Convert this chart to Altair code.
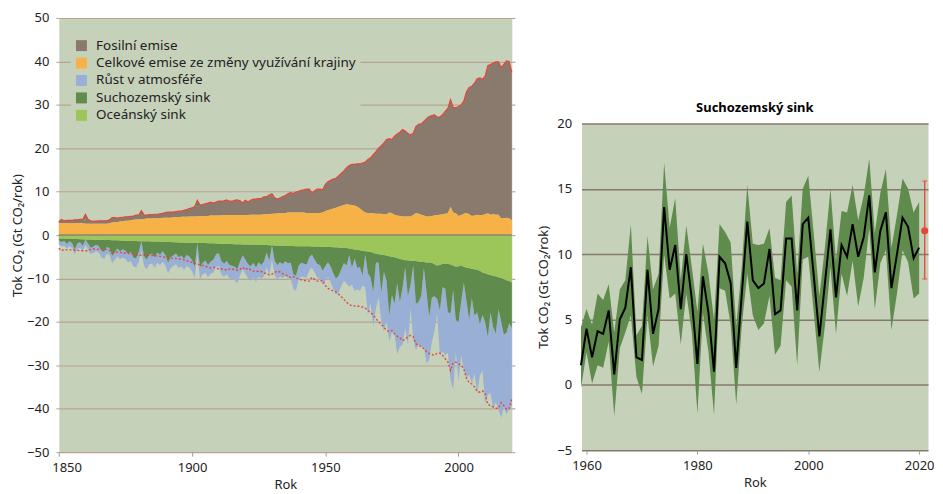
import altair as alt
import pandas as pd

# ---------------- data: global carbon budget (Gt CO2 / year) ----------------
years = list(range(1850, 2021))

luc = [
    2.7, 2.7, 2.7, 2.7, 2.7, 2.7, 2.7, 2.7, 2.8, 2.7,
    2.6, 2.6, 2.6, 2.6, 2.6, 2.6, 2.6, 2.6, 2.6, 2.7,
    2.9, 3.0, 3.0, 3.1, 3.2, 3.3, 3.3, 3.4, 3.5, 3.6,
    3.6, 3.7, 3.7, 3.8, 3.8, 3.8, 3.9, 3.9, 3.9, 4.0,
    4.0, 4.0, 4.0, 4.1, 4.1, 4.1, 4.2, 4.2, 4.2, 4.3,
    4.3, 4.3, 4.3, 4.4, 4.4, 4.4, 4.4, 4.5, 4.5, 4.5,
    4.5, 4.5, 4.6, 4.6, 4.6, 4.6, 4.6, 4.6, 4.6, 4.6,
    4.6, 4.6, 4.7, 4.7, 4.7, 4.7, 4.7, 4.8, 4.8, 4.8,
    4.9, 4.9, 5.0, 5.0, 5.1, 5.1, 5.2, 5.2, 5.2, 5.2,
    5.2, 5.2, 5.2, 5.1, 5.1, 5.1, 5.1, 5.1, 5.1, 5.2,
    5.5, 5.8, 5.9, 6.1, 6.3, 6.5, 6.7, 6.9, 7.1, 7.0,
    6.9, 6.8, 6.5, 6.1, 5.6, 5.2, 5.0, 5.0, 5.0, 4.9,
    4.9, 4.9, 4.8, 4.8, 5.2, 5.0, 4.7, 4.5, 4.4, 4.3,
    4.3, 4.3, 4.3, 4.6, 5.1, 4.9, 4.7, 4.5, 4.3, 4.3,
    4.4, 4.5, 4.6, 4.7, 4.8, 4.9, 5.0, 6.5, 5.2, 5.0,
    4.4, 4.6, 4.9, 5.1, 4.8, 4.4, 4.5, 4.7, 4.5, 4.6,
    4.8, 5.0, 4.7, 4.8, 4.7, 4.7, 3.8, 3.9, 4.0, 3.9,
    3.4,
]

fossil = [
    0.35, 0.9, 0.6, 0.7, 0.7, 0.7, 0.8, 0.8, 0.8, 0.9,
    1.0, 1.0, 0.7, 0.6, 0.6, 0.7, 0.7, 0.7, 0.7, 0.8,
    1.1, 1.0, 0.9, 0.9, 0.9, 0.9, 0.9, 0.9, 0.9, 1.0,
    1.0, 1.0, 0.9, 0.8, 0.9, 0.9, 0.9, 0.9, 1.0, 1.0,
    1.2, 1.3, 1.3, 1.2, 1.3, 1.4, 1.3, 1.5, 1.7, 1.8,
    2.0, 2.2, 2.3, 2.5, 2.6, 2.8, 3.0, 3.1, 2.9, 3.1,
    3.3, 3.3, 3.3, 3.5, 3.2, 3.2, 3.4, 3.5, 3.3, 2.8,
    3.4, 3.0, 3.3, 3.6, 3.6, 3.7, 3.7, 4.0, 4.0, 4.4,
    4.1, 3.7, 3.3, 3.5, 3.8, 4.0, 4.3, 4.6, 4.4, 4.7,
    4.9, 5.1, 5.2, 5.5, 5.5, 4.6, 5.1, 5.5, 5.5, 5.2,
    6.1, 6.5, 6.7, 6.8, 6.8, 7.1, 7.5, 7.9, 8.4, 9.0,
    9.4, 9.5, 9.9, 10.3, 11.0, 11.6, 12.4, 12.8, 13.5, 14.3,
    15.1, 15.7, 16.4, 17.2, 17.0, 17.0, 18.1, 18.8, 19.3, 20.0,
    19.7, 19.1, 18.8, 18.8, 19.9, 20.6, 20.9, 21.7, 22.5, 23.0,
    23.1, 23.2, 22.6, 22.5, 22.9, 23.6, 24.2, 24.7, 24.2, 24.3,
    25.2, 25.4, 26.0, 27.9, 29.2, 29.9, 30.5, 31.3, 31.7, 31.3,
    31.8, 34.0, 34.6, 34.8, 35.2, 35.2, 34.8, 35.4, 36.1, 36.1,
    34.1,
]

ocean_sink = [
    0.8, 0.8, 0.8, 0.85, 0.85, 0.9, 0.9, 0.9, 0.95, 0.95,
    1.0, 1.0, 1.0, 1.05, 1.05, 1.1, 1.1, 1.1, 1.15, 1.15,
    1.2, 1.2, 1.2, 1.25, 1.25, 1.3, 1.3, 1.3, 1.35, 1.35,
    1.4, 1.4, 1.4, 1.45, 1.45, 1.5, 1.5, 1.5, 1.55, 1.55,
    1.6, 1.6, 1.6, 1.65, 1.65, 1.7, 1.7, 1.7, 1.75, 1.75,
    1.75, 1.8, 1.8, 1.8, 1.85, 1.85, 1.9, 1.9, 1.9, 1.95,
    1.95, 2.0, 2.0, 2.0, 2.05, 2.05, 2.1, 2.1, 2.1, 2.15,
    2.15, 2.2, 2.2, 2.2, 2.25, 2.25, 2.3, 2.3, 2.3, 2.35,
    2.35, 2.4, 2.4, 2.45, 2.45, 2.45, 2.5, 2.5, 2.5, 2.55,
    2.55, 2.55, 2.6, 2.6, 2.6, 2.65, 2.65, 2.65, 2.7, 2.7,
    2.7, 2.75, 2.75, 2.8, 2.8, 2.85, 2.9, 2.95, 3.0, 3.1,
    3.2, 3.3, 3.4, 3.5, 3.6, 3.7, 3.8, 3.9, 4.1, 4.3,
    4.4, 4.5, 4.6, 4.7, 4.9, 5.0, 5.1, 5.3, 5.5, 5.6,
    5.8, 5.8, 5.9, 6.0, 6.0, 6.1, 6.2, 6.2, 6.3, 6.3,
    6.4, 6.7, 7.0, 6.9, 6.6, 6.6, 6.6, 6.8, 7.0, 7.3,
    7.2, 7.0, 7.3, 7.5, 7.6, 7.8, 7.9, 8.0, 8.2, 8.6,
    8.8, 9.0, 9.2, 9.4, 9.5, 9.7, 9.9, 10.1, 10.4, 10.6,
    10.9,
]

# positive = sink, negative = source
land_sink = [
    0.4, 0.8, 0.5, 1.2, 0.6, 0.9, 2.4, 1.0, 0.7, 1.5,
    -1.2, 1.0, 2.0, 1.6, 1.2, 1.4, 2.5, 2.8, 1.6, 1.8,
    3.6, 2.8, 1.9, 2.5, 2.0, 2.3, 3.0, 2.6, 3.8, 4.0,
    2.5, -0.9, 3.5, 4.2, 3.0, 2.8, 3.6, 2.5, 3.0, 2.2,
    3.0, 4.8, 3.5, 3.0, 2.6, 3.4, 3.0, 3.8, 2.8, 3.2,
    4.0, 5.5, -1.4, 5.6, 4.5, 4.0, 5.0, 4.2, 3.8, 2.5,
    2.2, 4.0, 4.6, 4.0, 4.8, 5.0, 5.2, 5.8, 4.0, 2.5,
    3.5, 4.5, 5.0, 4.2, 5.2, 4.0, 4.6, 3.8, 1.8, 3.5,
    -0.5, 3.5, 4.5, 3.8, 4.2, 3.6, 4.0, 3.8, 6.5, 6.8,
    4.5, 3.8, 4.0, 4.2, 2.5, 1.8, 3.0, 4.0, 4.2, 5.5,
    4.5, 3.5, 4.5, 6.0, 7.2, 6.5, 5.0, 3.5, 4.0, 1.5,
    4.3, 2.1, 4.1, 3.9, 5.7, 0.8, 5.0, 5.9, 9.0, 2.1,
    1.9, 8.8, 3.9, 5.8, 13.6, 8.8, 10.7, 5.8, 10.0, 6.5,
    1.6, 8.3, 5.5, 1.0, 9.8, 9.3, 7.8, 1.3, 6.9, 12.5,
    8.0, 7.4, 7.75, 10.4, 5.4, 5.7, 11.2, 11.2, 5.7, 12.3,
    12.8, 8.3, 3.7, 7.75, 11.9, 6.7, 10.7, 9.8, 12.3, 9.8,
    11.3, 14.5, 8.6, 11.8, 13.2, 7.4, 10.0, 12.8, 12.1, 9.7,
    10.5,
]

atm_growth = [
    1.0, 1.0, 1.1, 1.1, 1.1, 1.2, 1.2, 1.2, 1.3, 1.3,
    1.3, 1.4, 1.4, 1.4, 1.5, 1.5, 1.5, 1.6, 1.6, 1.6,
    1.7, 1.7, 1.8, 1.8, 1.9, 1.9, 2.0, 2.0, 2.1, 2.1,
    2.2, 2.2, 2.2, 2.3, 2.3, 2.3, 2.4, 2.4, 2.4, 2.4,
    2.4, 2.4, 2.5, 2.5, 2.5, 2.5, 2.5, 2.5, 2.6, 2.6,
    2.6, 2.6, 2.7, 2.7, 2.7, 2.8, 2.8, 2.8, 2.9, 2.9,
    2.9, 3.0, 3.0, 3.0, 3.1, 3.1, 3.1, 3.2, 3.2, 3.2,
    3.2, 3.3, 3.3, 3.3, 3.3, 3.3, 3.3, 3.3, 3.3, 3.3,
    3.3, 3.3, 3.3, 3.3, 3.3, 3.3, 3.4, 3.4, 3.4, 3.4,
    3.3, 3.2, 3.1, 3.0, 3.0, 3.0, 3.0, 3.1, 3.2, 3.3,
    3.3, 3.4, 3.5, 3.6, 3.7, 3.8, 3.9, 4.0, 4.2, 7.3,
    3.9, 7.5, 5.0, 5.5, 2.3, 7.6, 9.6, 5.9, 8.0, 10.5,
    8.0, 6.4, 13.7, 9.2, 6.1, 8.6, 7.1, 16.3, 10.2, 13.1,
    14.0, 11.2, 5.6, 16.8, 10.7, 9.7, 11.8, 18.2, 16.3, 10.0,
    10.2, 8.0, 3.4, 10.5, 14.8, 15.4, 9.3, 15.3, 22.9, 7.3,
    13.6, 12.4, 20.0, 17.6, 12.6, 19.7, 13.3, 18.7, 11.9, 12.8,
    18.7, 13.3, 18.6, 18.8, 15.8, 23.0, 22.2, 16.7, 18.7, 19.8,
    18.0,
]

# land sink panel (1959-2020): uncertainty band
rs_years = list(range(1959, 2021))
rs_upper = [
    4.4, 5.8, 4.6, 7.0, 6.5, 7.7, 4.0, 7.3, 8.0, 12.3,
    3.8, 4.5, 11.4, 7.3, 8.5, 17.0, 12.0, 14.3, 8.0, 12.2,
    9.0, 5.6, 10.8, 8.5, 5.0, 12.3, 11.7, 10.9, 4.5, 9.0,
    15.3, 10.8, 10.7, 10.8, 12.0, 8.2, 8.0, 14.0, 14.5, 8.5,
    15.0, 16.0, 11.5, 6.8, 10.5, 15.0, 9.5, 13.3, 13.2, 15.3,
    12.6, 14.5, 17.3, 11.6, 14.7, 16.5, 10.5, 13.0, 15.8, 15.0,
    13.2, 14.0,
]
rs_lower = [
    -0.3, 2.5, 0.1, 1.5, 1.3, 3.3, -2.4, 2.8, 4.0, 5.3,
    0.6, -0.7, 5.3, 1.4, 3.0, 10.0, 6.6, 7.0, 3.1, 7.0,
    4.0, -2.2, 5.5, 2.5, -2.3, 7.4, 7.2, 4.6, -1.5, 4.5,
    8.5, 5.3, 4.2, 4.7, 6.8, 2.3, 3.0, 8.0, 7.5, 1.5,
    9.6, 9.8, 5.5, 1.0, 4.5, 9.0, 3.9, 8.5, 6.8, 9.5,
    6.0, 8.2, 12.0, 5.8, 9.3, 10.3, 4.2, 7.0, 10.3, 9.4,
    6.6, 7.0,
]
err_year = [2021]
err_mid = [11.8]
err_lo = [8.1]
err_hi = [15.6]

series_names = [
    "Fosilní emise",
    "Celkové emise ze změny využívání krajiny",
    "Růst v atmosféře",
    "Suchozemský sink",
    "Oceánský sink",
]

# ---------------- styles ----------------
BG = "#c6d1ba"
C_FOSSIL = "#8a7a6d"
C_LUC = "#f6b247"
C_ATM = "#99afd5"
C_LAND = "#5f8b4c"
C_OCEAN = "#9cc55a"
RED = "#e5463c"
GRID_L = "#b6a594"
GRID_R = "#847a6b"
ZERO = "#8c8278"
TXT = "#222222"
FONT = "Noto Sans"
series_colors = [C_FOSSIL, C_LUC, C_ATM, C_LAND, C_OCEAN]

# ---------------- left panel ----------------
df = pd.DataFrame({"year": years, "luc": luc, "fossil": fossil,
                   "ocean": ocean_sink, "land": land_sink, "atm": atm_growth})
df["luc_top"] = df["luc"]
df["fos_top"] = df["luc"] + df["fossil"]
df["src_top"] = df["fos_top"] + (-df["land"]).clip(lower=0)
df["oce_bot"] = -df["ocean"]
df["land_bot"] = df["oce_bot"] - df["land"].clip(lower=0)
df["atm_bot"] = df["land_bot"] - df["atm"]
df["neg_total"] = -df["fos_top"]

long = pd.concat([
    pd.DataFrame({"year": df.year, "series": series_names[0], "lo": df.luc_top, "hi": df.fos_top}),
    pd.DataFrame({"year": df.year, "series": series_names[1], "lo": 0.0, "hi": df.luc_top}),
    pd.DataFrame({"year": df.year, "series": series_names[2], "lo": df.atm_bot, "hi": df.land_bot}),
    pd.DataFrame({"year": df.year, "series": series_names[3], "lo": df.land_bot, "hi": df.oce_bot}),
    pd.DataFrame({"year": df.year, "series": series_names[4], "lo": df.oce_bot, "hi": 0.0}),
], ignore_index=True)

Y_TITLE = "Tok CO₂ (Gt CO₂/rok)"


def xl(field="year"):
    return alt.X(f"{field}:Q",
                 scale=alt.Scale(domain=[1850, 2020], nice=False, zero=False),
                 axis=alt.Axis(values=[1850, 1900, 1950, 2000], format="d", title="Rok",
                               grid=False, domain=False, ticks=True, tickSize=4,
                               tickColor="#9a9a9a", labelPadding=5, titlePadding=5,
                               labelFlush=True, labelFlushOffset=7))


def yl(field):
    return alt.Y(f"{field}:Q",
                 scale=alt.Scale(domain=[-50, 50], nice=False, zero=False),
                 axis=alt.Axis(values=list(range(-50, 51, 10)), title=Y_TITLE,
                               grid=True, gridColor=GRID_L, gridWidth=1.2,
                               domain=False, ticks=True, tickSize=3, tickColor=GRID_L,
                               labelPadding=7, titlePadding=2))


def yl_right(field):
    return alt.Y(f"{field}:Q",
                 scale=alt.Scale(domain=[-50, 50], nice=False, zero=False),
                 axis=alt.Axis(values=list(range(-50, 51, 10)), orient="right", title=None,
                               labels=False, grid=False, domain=False, ticks=True,
                               tickSize=3, tickColor=GRID_L, tickWidth=1.2))


areas = alt.Chart(long).mark_area(interpolate="linear").encode(
    x=xl(),
    y=yl("lo"),
    y2="hi:Q",
    color=alt.Color("series:N",
                    scale=alt.Scale(domain=series_names, range=series_colors),
                    legend=alt.Legend(title=None, orient="none", legendX=12, legendY=17,
                                      symbolType="square", symbolSize=121,
                                      symbolStrokeWidth=0, labelFontSize=13.5,
                                      labelColor=TXT, labelFont=FONT,
                                      fillColor=BG, padding=4, rowPadding=2.5,
                                      labelOffset=8, labelLimit=500)),
)

spikes = alt.Chart(df).mark_area(color=C_LAND).encode(
    x=xl(), y=yl("fos_top"), y2="src_top:Q")

top_line = alt.Chart(df).mark_line(color=RED, strokeWidth=1.2).encode(
    x=xl(), y=yl("src_top"))

neg_line = alt.Chart(df).mark_line(color=RED, strokeWidth=1.4, strokeDash=[2, 2]).encode(
    x=xl(), y=yl("neg_total"))

left_main = alt.layer(areas, spikes, top_line, neg_line)

zero_rule = alt.Chart(pd.DataFrame({"v": [0]})).mark_rule(color=ZERO, strokeWidth=1.6).encode(
    y=yl_right("v"))

left = alt.layer(left_main, zero_rule).resolve_scale(y="independent").properties(
    width=455, height=436,
    view=alt.ViewBackground(fill=BG, stroke="transparent"))

# ---------------- right panel ----------------
rdf = pd.DataFrame({"year": rs_years, "land": land_sink[years.index(1959):],
                    "lo": rs_lower, "hi": rs_upper})
edf = pd.DataFrame({"year": err_year, "mid": err_mid, "lo": err_lo, "hi": err_hi})
cap_df = pd.DataFrame({"year": err_year * 2, "v": err_lo + err_hi})


def xr(field="year"):
    return alt.X(f"{field}:Q",
                 scale=alt.Scale(domain=[1959.1, 2021.6], nice=False, zero=False),
                 axis=alt.Axis(values=[1960, 1980, 2000, 2020], format="d", title="Rok",
                               grid=False, domain=False, ticks=True, tickSize=4,
                               tickColor="#9a9a9a", labelPadding=5, titlePadding=5))


def yr(field):
    return alt.Y(f"{field}:Q",
                 scale=alt.Scale(domain=[-5, 20], nice=False, zero=False),
                 axis=alt.Axis(values=[-5, 0, 5, 10, 15, 20], title=Y_TITLE,
                               grid=True, gridColor=GRID_R, gridWidth=1.5,
                               domain=False, ticks=False, labelPadding=10, titlePadding=6))


band = alt.Chart(rdf).mark_area(color=C_LAND, opacity=1).encode(
    x=xr(), y=yr("lo"), y2="hi:Q")
land_line = alt.Chart(rdf).mark_line(color="black", strokeWidth=2).encode(
    x=xr(), y=yr("land"))
err_rule = alt.Chart(edf).mark_rule(color=RED, strokeWidth=1.3).encode(
    x=xr(), y=yr("lo"), y2="hi:Q")
err_caps = alt.Chart(cap_df).mark_tick(color=RED, orient="horizontal", size=5, thickness=1.3).encode(
    x=xr(), y=yr("v"))
err_pt = alt.Chart(edf).mark_circle(color=RED, size=50, opacity=1).encode(
    x=xr(), y=yr("mid"))

right = alt.layer(band, land_line, err_rule, err_caps, err_pt).properties(
    width=348, height=328,
    title=alt.TitleParams("Suchozemský sink", fontSize=13, fontWeight="bold",
                          color="black", anchor="middle", offset=3, font=FONT),
    view=alt.ViewBackground(fill=BG, stroke="transparent"))

spacer = alt.Chart(pd.DataFrame({"a": [0]})).mark_point(opacity=0).encode(
    x=alt.value(0), y=alt.value(0)).properties(
    width=1, height=82, view=alt.ViewBackground(fill="transparent", stroke="transparent"))

right_col = alt.vconcat(spacer, right, spacing=0)

chart = alt.hconcat(left, right_col, spacing=20).properties(
    padding={"left": 3, "top": 2, "right": 0, "bottom": 0}
).configure_axis(
    labelFont=FONT, titleFont=FONT, labelFontSize=13, titleFontSize=13,
    labelColor=TXT, titleColor=TXT, titleFontWeight="normal"
).configure_legend(labelFont=FONT).configure_title(font=FONT).configure_view(stroke="transparent")

chart.save("out.html", embed_options={"renderer": "svg", "actions": False})
